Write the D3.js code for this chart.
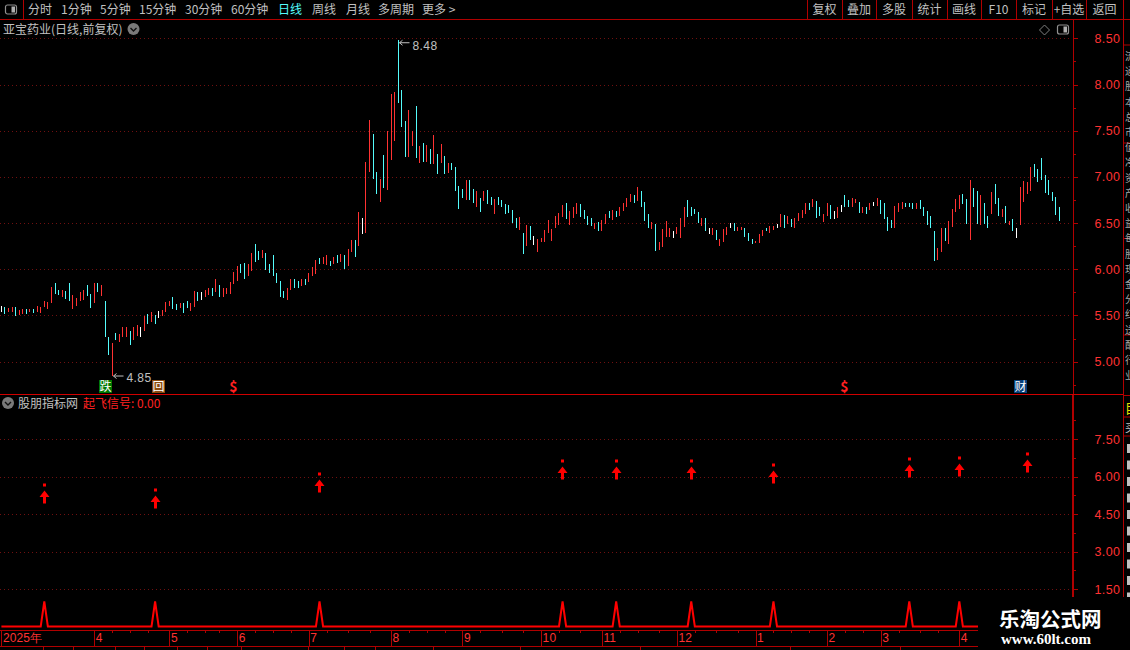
<!DOCTYPE html>
<html>
<head>
<meta charset="utf-8">
<title>亚宝药业</title>
<script src="https://cdn.jsdelivr.net/npm/d3@7"></script>
<style>
	html, body {margin: 0; padding: 0; background: #000; overflow: hidden;}
	svg {display: block;}
	text {font-family: "Noto Sans CJK SC", "Noto Sans", sans-serif; font-size: 12px; fill: #c0c0c0;}
	.num {font-family: "Liberation Sans", sans-serif; letter-spacing: 0.4px; fill: #ff3232;}
	.axis path, .axis line {stroke: #b00000; shape-rendering: crispEdges;}
	.grid line {stroke: #701010; stroke-dasharray: 1 3; shape-rendering: crispEdges;}
</style>
</head>
<body>
<div id="chart"></div>
<script>
(function() {
	// daily highs
	var highs = [5.60,5.59,5.58,5.59,5.59,5.56,5.57,5.57,5.57,5.57,5.60,5.59,5.66,5.65,5.81,5.85,5.78,5.78,5.76,5.85,
		5.72,5.69,5.75,5.78,5.83,5.73,5.85,5.85,5.83,5.66,5.27,5.20,5.31,5.30,5.37,5.37,5.33,5.37,5.40,5.37,
		5.49,5.52,5.54,5.51,5.55,5.56,5.65,5.66,5.70,5.62,5.64,5.64,5.66,5.63,5.76,5.75,5.75,5.78,5.80,5.80,
		5.89,5.83,5.80,5.80,5.86,5.97,6.04,6.06,6.07,6.06,6.18,6.27,6.20,6.21,6.18,6.06,6.15,5.96,5.87,5.77,
		5.80,5.89,5.89,5.87,5.90,5.90,5.96,6.03,6.10,6.12,6.13,6.16,6.09,6.13,6.15,6.17,6.16,6.22,6.32,6.32,
		6.62,6.56,7.16,7.62,7.46,7.05,6.98,7.24,7.50,7.90,7.92,8.48,7.94,7.61,7.73,7.50,7.77,7.34,7.37,7.35,
		7.30,7.45,7.25,7.36,7.23,7.15,7.15,7.11,6.90,6.87,6.97,6.97,6.87,6.85,6.77,6.85,6.86,6.78,6.76,6.78,
		6.75,6.71,6.70,6.64,6.56,6.57,6.39,6.48,6.47,6.36,6.33,6.34,6.43,6.53,6.44,6.58,6.61,6.70,6.72,6.63,
		6.67,6.72,6.71,6.64,6.58,6.56,6.50,6.51,6.53,6.60,6.63,6.64,6.63,6.67,6.72,6.77,6.82,6.80,6.89,6.85,
		6.73,6.60,6.51,6.49,6.30,6.44,6.52,6.45,6.42,6.46,6.56,6.68,6.75,6.67,6.65,6.62,6.56,6.56,6.45,6.45,
		6.43,6.33,6.44,6.46,6.50,6.50,6.46,6.46,6.45,6.39,6.33,6.31,6.38,6.43,6.45,6.47,6.47,6.49,6.60,6.59,
		6.58,6.55,6.56,6.61,6.64,6.72,6.72,6.76,6.74,6.68,6.60,6.72,6.70,6.63,6.67,6.70,6.80,6.75,6.77,6.76,
		6.73,6.67,6.67,6.72,6.73,6.77,6.75,6.72,6.57,6.53,6.69,6.72,6.73,6.72,6.72,6.72,6.72,6.75,6.68,6.63,
		6.58,6.42,6.23,6.45,6.45,6.52,6.65,6.76,6.80,6.82,6.76,6.97,6.88,6.85,6.80,6.72,6.58,6.84,6.92,6.77,
		6.65,6.69,6.52,6.55,6.45,6.89,6.96,6.94,7.11,7.14,7.09,7.20,7.02,6.97,6.84,6.78,6.67];
	var lows = [5.54,5.52,5.54,5.54,5.49,5.51,5.52,5.52,5.54,5.53,5.54,5.53,5.59,5.57,5.64,5.73,5.72,5.70,5.68,5.66,
		5.57,5.60,5.66,5.67,5.71,5.58,5.64,5.75,5.71,5.27,5.07,4.85,5.23,5.21,5.27,5.27,5.18,5.24,5.28,5.27,
		5.33,5.41,5.43,5.41,5.47,5.49,5.54,5.60,5.57,5.56,5.58,5.53,5.58,5.55,5.59,5.66,5.67,5.70,5.72,5.71,
		5.75,5.70,5.70,5.73,5.73,5.84,5.87,5.96,5.90,5.93,5.98,6.08,6.10,6.12,5.99,5.96,5.93,5.85,5.70,5.69,
		5.67,5.78,5.80,5.80,5.82,5.83,5.86,5.93,5.95,6.06,6.06,6.05,6.04,6.06,6.07,6.08,6.00,6.04,6.19,6.13,
		6.25,6.38,6.39,7.05,6.98,6.81,6.73,6.88,6.86,7.18,7.39,7.80,7.54,7.22,7.22,7.34,7.21,7.15,7.16,7.16,
		7.14,7.14,7.03,7.15,7.03,7.04,7.07,6.85,6.65,6.77,6.75,6.75,6.72,6.67,6.62,6.74,6.71,6.70,6.60,6.70,
		6.67,6.60,6.61,6.50,6.45,6.43,6.17,6.25,6.32,6.26,6.19,6.30,6.30,6.39,6.31,6.45,6.48,6.57,6.55,6.48,
		6.56,6.60,6.57,6.55,6.48,6.47,6.44,6.42,6.42,6.49,6.56,6.53,6.57,6.58,6.63,6.68,6.73,6.72,6.74,6.67,
		6.52,6.45,6.44,6.20,6.21,6.24,6.35,6.35,6.34,6.38,6.34,6.46,6.57,6.58,6.60,6.50,6.47,6.42,6.38,6.37,
		6.32,6.25,6.30,6.37,6.45,6.42,6.42,6.43,6.35,6.31,6.27,6.28,6.28,6.36,6.41,6.39,6.43,6.45,6.46,6.45,
		6.49,6.46,6.45,6.52,6.56,6.60,6.64,6.68,6.56,6.58,6.51,6.58,6.55,6.55,6.56,6.62,6.67,6.68,6.68,6.72,
		6.61,6.61,6.60,6.64,6.69,6.69,6.60,6.55,6.42,6.45,6.45,6.62,6.65,6.67,6.67,6.65,6.65,6.65,6.58,6.48,
		6.45,6.09,6.10,6.19,6.31,6.27,6.46,6.62,6.65,6.71,6.49,6.32,6.68,6.49,6.48,6.49,6.45,6.60,6.71,6.58,
		6.57,6.50,6.48,6.42,6.34,6.48,6.73,6.82,6.85,7.00,6.95,6.97,6.83,6.80,6.74,6.59,6.52];
	// r up, c down, w flat, ten days to a chunk
	var kinds = ['wcrrcrrcrc', 'rrrrrccrcc', 'rrrrccrcrc', 'crcrrrcrrw', 'rcrcwrrrcc', 'rccrrcwrrc',
		'rcrrrrrccr', 'rccrcccccc', 'rrccrcrrrc', 'rrcrcrcrrc', 'rwrrccrcrr', 'rcccrrcrcr',
		'crcrcrcccc', 'rccrcrccrc', 'cccccrcrcw', 'rrrrrrrrcr', 'rrccccrcrr', 'crcrrrrcrc',
		'ccrcrrrrwr', 'rrccccrcwr', 'crrrwcrrcc', 'crrrcrrwrc', 'rcrrrrcrcc', 'rrcwrwccrr',
		'crcrwrcccc', 'rrrcccrccc', 'ccrrcrrrrc', 'crccrccrcc', 'rcrcwrrrrc', 'ccccccc'].join('').split('');
	var priceTicks = [8.5, 8, 7.5, 7, 6.5, 6, 5.5, 5];
	var priceMinor = [8.25, 7.75, 7.25, 6.75, 6.25, 5.75, 5.25, 4.75];
	var signalTicks = [7.5, 6, 4.5, 3, 1.5];
	var signalMinor = [8.25, 6.75, 5.25, 3.75, 2.25, 0.75];
	var signalDays = [12, 43, 89, 157, 172, 193, 216, 254, 268, 287];
	var signalPrices = [5.66, 5.48, 6.12, 6.64, 6.64, 6.64, 6.48, 6.72, 6.76, 6.92];
	var monthDays = [0, 26, 47, 66, 86, 109, 129, 151, 168, 189, 211, 231, 246, 268];
	var monthLabels = ['2025年', '4', '5', '6', '7', '8', '9', '10', '11', '12', '1', '2', '3', '4'];
	var weekDays = [31, 36, 41, 52, 57, 61, 71, 76, 81, 91, 97, 103, 114, 119, 124, 134, 140, 146, 156, 162, 173, 178, 184, 194, 200, 206, 216, 221, 226, 236, 241, 251, 257, 262];
	var leftButtons = [['分时', 28, '#c0c0c0'], ['1分钟', 61, '#c0c0c0'], ['5分钟', 100, '#c0c0c0'], ['15分钟', 139, '#c0c0c0'], ['30分钟', 185, '#c0c0c0'], ['60分钟', 231, '#c0c0c0'], ['日线', 278, '#54fcfc'], ['周线', 312, '#c0c0c0'], ['月线', 346, '#c0c0c0'], ['多周期', 378, '#c0c0c0'], ['更多 >', 422, '#c0c0c0']];
	var rightButtons = ['复权', '叠加', '多股', '统计', '画线', 'F10', '标记', '+自选', '返回'];
	var rightEdges = [807, 842, 876, 912, 947, 981, 1016, 1052, 1086, 1123];
	var markDays = [29, 44, 65, 236, 285];
	var markKinds = ['跌', '回', '$', '$', '财'];
	var sideLines = [45, 143, 238.5, 335, 395.5, 417, 436];
	var sideChars = '流通股本总市值净资产收益每股现金分红送配行业';
	var bottomTabs = [43, 73, 115, 144, 177, 207, 241, 308, 344, 375, 433, 520, 640, 790, 900];

	var W = 1130, H = 650, dark = '#b00000';
	var colors = {r: '#ff3232', c: '#54fcfc', w: '#ffffff'};
	var svg = d3.select('#chart').append('svg').attr('width', W).attr('height', H).style('background', '#000');

	var x = d3.scaleLinear().domain([0, 296]).range([1.4, 1059.4]);
	var px = function(i) { return Math.round(x(i) - 0.5) + 0.5; };
	var priceY = d3.scaleLinear().domain([4.65, 8.71]).range([394, 19]);
	var signalY = d3.scaleLinear().domain([0, 9.3]).range([626.5, 394]);

	// dotted grid
	svg.append('g').attr('class', 'grid').selectAll('line').data(priceTicks).enter().append('line')
		.attr('x1', 0).attr('x2', 1072)
		.attr('y1', function(d) { return Math.round(priceY(d)) + 0.5; })
		.attr('y2', function(d) { return Math.round(priceY(d)) + 0.5; });
	svg.append('g').attr('class', 'grid').selectAll('line').data(signalTicks).enter().append('line')
		.attr('x1', 0).attr('x2', 1072)
		.attr('y1', function(d) { return Math.round(signalY(d)) + 0.5; })
		.attr('y2', function(d) { return Math.round(signalY(d)) + 0.5; });

	// bars
	svg.append('g').selectAll('line').data(highs).enter().append('line')
		.attr('x1', function(d, i) { return px(i); })
		.attr('x2', function(d, i) { return px(i); })
		.attr('y1', function(d) { return priceY(d); })
		.attr('y2', function(d, i) { return priceY(lows[i]); })
		.attr('stroke', function(d, i) { return colors[kinds[i]]; })
		.attr('stroke-width', 1)
		.style('shape-rendering', 'crispEdges');

	// high / low notes
	var note = function(day, val, gapY, textDy, label) {
		var hx = px(day), hy = priceY(val);
		svg.append('path').attr('d', 'M' + (hx + 11) + ',' + (hy + gapY + 0.5) + 'H' + (hx + 1) + 'm3,-2.5l-3,2.5l3,2.5')
			.attr('fill', 'none').attr('stroke', '#c0c0c0').attr('stroke-width', 1);
		svg.append('text').attr('x', hx + 14).attr('y', hy + textDy).attr('class', 'num').style('fill', '#c0c0c0').text(label);
	};
	note(111, 8.48, 2, 10, '8.48');
	note(31, 4.85, 0, 6, '4.85');

	// event marks along the bottom of the price panel
	markDays.forEach(function(d, i) {
		var k = markKinds[i], cx = px(d);
		if (k == '$') {
			svg.append('text').attr('x', cx).attr('y', 392).attr('text-anchor', 'middle')
				.style('font-size', '14px').style('font-weight', 'bold').style('fill', '#ff2020').text('$');
			return;
		}
		var bg = k == '跌' ? '#007800' : (k == '财' ? '#08407a' : '#8a4a10');
		svg.append('rect').attr('x', cx - 6.5).attr('y', 380).attr('width', 13).attr('height', 13).attr('fill', bg);
		svg.append('text').attr('x', cx).attr('y', 391).attr('text-anchor', 'middle')
			.style('font-size', '12px').style('fill', '#fff').text(k);
	});

	// signal panel
	var signal = highs.map(function(d, i) { return signalDays.indexOf(i) >= 0 ? 1 : 0; });
	svg.append('path').datum(signal)
		.attr('d', d3.line().x(function(d, i) { return x(i); }).y(function(d) { return signalY(d); }))
		.attr('fill', 'none').attr('stroke', '#ff0000').attr('stroke-width', 2);
	var arrows = svg.append('g').selectAll('g').data(signalDays).enter().append('g')
		.attr('transform', function(d, i) { return 'translate(' + px(d) + ',' + Math.round(signalY(signalPrices[i])) + ')'; });
	arrows.append('rect').attr('x', -1.5).attr('y', -1.5).attr('width', 3).attr('height', 3).attr('fill', '#ff0000');
	arrows.append('path').attr('d', 'M0,5.5L5,12H1.5V18.5H-1.5V12H-5Z').attr('fill', '#ff0000');

	// price and signal axes
	var axisAt = function(scale, ticks, size, labels, fmt) {
		var a = d3.axisRight(scale).tickValues(ticks).tickSizeOuter(0).tickSizeInner(size).tickPadding(labels ? 17 : 0)
			.tickFormat(labels ? fmt : '');
		var g = svg.append('g').attr('class', 'axis').attr('transform', 'translate(1072.5,0)').call(a);
		g.selectAll('text').attr('class', 'num').style('font-size', '12.5px');
		return g;
	};
	var f2 = d3.format('.2f');
	axisAt(priceY, priceTicks, 5, true, f2);
	axisAt(priceY, priceMinor, 3, false);
	axisAt(signalY, signalTicks, 5, true, f2).select('.domain').attr('stroke-width', 2);
	axisAt(signalY, signalMinor, 3, false);

	// time axis
	svg.append('line').attr('x1', 0).attr('x2', W).attr('y1', 630.5).attr('y2', 630.5).attr('stroke', dark);
	svg.append('line').attr('x1', 0).attr('x2', W).attr('y1', 646.5).attr('y2', 646.5).attr('stroke', dark);
	var monthAxis = d3.axisBottom(x).tickValues(monthDays).tickSize(16).tickSizeOuter(0)
		.tickFormat(function(d, i) { return monthLabels[i]; });
	var timeG = svg.append('g').attr('class', 'axis').attr('transform', 'translate(0,630.5)').call(monthAxis);
	timeG.select('.domain').remove();
	timeG.selectAll('text').attr('class', 'num').attr('text-anchor', 'start').attr('x', 1).attr('y', 3)
		.attr('dy', '.71em').style('font-size', '12px').style('letter-spacing', '0.1px');
	var weekAxis = d3.axisBottom(x).tickValues(weekDays).tickSize(2).tickSizeOuter(0).tickFormat('');
	var weekG = svg.append('g').attr('class', 'axis').attr('transform', 'translate(0,630.5)').call(weekAxis);
	weekG.select('.domain').remove();
	svg.append('g').selectAll('line').data(bottomTabs).enter().append('line')
		.attr('x1', function(d) { return d + 0.5; }).attr('x2', function(d) { return d + 0.5; })
		.attr('y1', 646).attr('y2', 650).attr('stroke', dark);

	// toolbar
	svg.append('line').attr('x1', 0).attr('x2', W).attr('y1', 19.5).attr('y2', 19.5).attr('stroke', dark);
	svg.append('line').attr('x1', 23.5).attr('x2', 23.5).attr('y1', 0).attr('y2', 19).attr('stroke', dark);
	var panelIcon = function(ix, iy) {
		svg.append('rect').attr('x', ix).attr('y', iy).attr('width', 11).attr('height', 9).attr('rx', 2)
			.attr('fill', 'none').attr('stroke', '#909090').attr('stroke-width', 1.2);
		svg.append('rect').attr('x', ix + 6).attr('y', iy + 1.5).attr('width', 3.5).attr('height', 6).attr('fill', '#b0b0b0');
	};
	panelIcon(5.5, 5);
	panelIcon(1057.5, 25);
	svg.append('path').attr('d', 'M1044.5,25L1049.5,30L1044.5,35L1039.5,30Z').attr('fill', 'none').attr('stroke', '#808080');
	svg.selectAll('.lb').data(leftButtons).enter().append('text').attr('class', 'lb')
		.attr('x', function(d) { return d[1]; }).attr('y', 14)
		.style('fill', function(d) { return d[2]; })
		.text(function(d) { return d[0]; });
	svg.selectAll('.rs').data(rightEdges).enter().append('line').attr('class', 'rs')
		.attr('x1', function(d) { return d + 0.5; }).attr('x2', function(d) { return d + 0.5; })
		.attr('y1', 0).attr('y2', 19).attr('stroke', dark);
	svg.selectAll('.rb').data(rightButtons).enter().append('text').attr('class', 'rb')
		.attr('x', function(d, i) { return (rightEdges[i] + rightEdges[i + 1]) / 2; }).attr('y', 14)
		.attr('text-anchor', 'middle').text(function(d) { return d; });

	// panel titles
	var chevron = function(cx, cy) {
		svg.append('circle').attr('cx', cx).attr('cy', cy).attr('r', 6).attr('fill', '#7a7a7a');
		svg.append('path').attr('d', 'M' + (cx - 3) + ',' + (cy - 1) + 'l3,3l3,-3').attr('fill', 'none').attr('stroke', '#111').attr('stroke-width', 1.4);
	};
	svg.append('text').attr('x', 3).attr('y', 34).text('亚宝药业(日线,前复权)');
	chevron(133.5, 29);
	svg.append('line').attr('x1', 0).attr('x2', 1123).attr('y1', 394.5).attr('y2', 394.5).attr('stroke', '#d00000');
	chevron(8, 403);
	svg.append('text').attr('x', 18).attr('y', 408).text('股朋指标网');
	svg.append('text').attr('x', 83).attr('y', 408).style('fill', '#ff2020').text('起飞信号: 0.00');

	// clipped side panel
	svg.append('line').attr('x1', 1123.5).attr('x2', 1123.5).attr('y1', 0).attr('y2', 597).attr('stroke', dark);
	svg.selectAll('.sl').data(sideLines).enter().append('line').attr('class', 'sl')
		.attr('x1', 1123).attr('x2', W).attr('y1', function(d) { return d; }).attr('y2', function(d) { return d; }).attr('stroke', dark);
	svg.selectAll('.sc').data(sideChars.split('')).enter().append('text').attr('class', 'sc')
		.attr('x', 1125).attr('y', function(d, i) { return 60 + i * 15.2; })
		.style('font-size', '10px').style('fill', '#a8a8a8')
		.text(function(d) { return d; });
	svg.append('text').attr('x', 1125).attr('y', 413).style('fill', '#e0e000').style('font-size', '13px').text('目');
	svg.append('text').attr('x', 1125).attr('y', 432).style('font-size', '11px').text('买');
	d3.range(444, 597, 16.5).forEach(function(yy) {
		svg.append('rect').attr('x', 1127).attr('y', yy).attr('width', 3).attr('height', 9).attr('fill', '#c0c0c0');
	});

	// watermark corner
	svg.append('rect').attr('x', 978).attr('y', 597).attr('width', 152).attr('height', 53).attr('fill', '#000');
	svg.append('text').attr('x', 999).attr('y', 627).style('font-size', '20.5px').style('font-weight', 'bold').style('fill', '#fff').text('乐淘公式网');
	svg.append('text').attr('x', 1001).attr('y', 644).style('font-family', '"Liberation Serif", serif').style('font-size', '15px').style('font-weight', 'bold').style('fill', '#fff').text('www.60lt.com');
})();
</script>
</body>
</html>
